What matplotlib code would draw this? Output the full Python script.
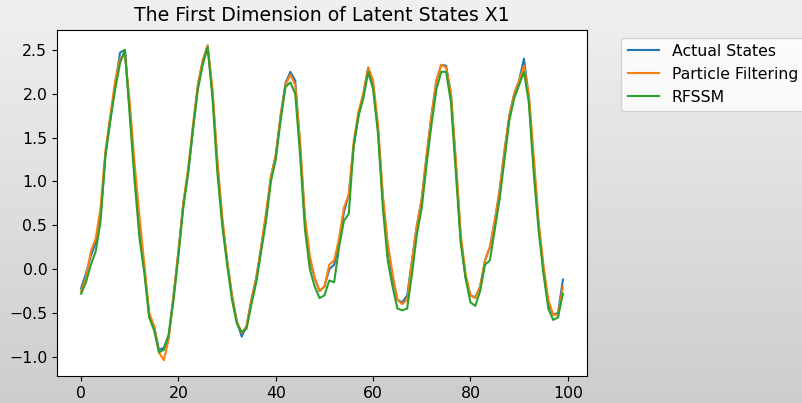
import numpy as np
import matplotlib
matplotlib.use('Agg')
import matplotlib.pyplot as plt

# latent state X1
actual_states = [
    -0.22, -0.05, 0.15, 0.30, 0.60, 1.30, 1.70, 2.10, 2.47, 2.50,
    1.80, 1.10, 0.50, 0.00, -0.55, -0.65, -0.92, -0.90, -0.75, -0.30,
    0.20, 0.75, 1.10, 1.60, 2.10, 2.38, 2.55, 2.00, 1.20, 0.55,
    0.10, -0.30, -0.60, -0.77, -0.65, -0.35, -0.10, 0.25, 0.60, 1.05,
    1.30, 1.75, 2.12, 2.25, 2.15, 1.40, 0.55, 0.10, -0.10, -0.25,
    -0.20, 0.00, 0.05, 0.30, 0.65, 0.85, 1.40, 1.75, 2.00, 2.30,
    2.10, 1.60, 0.80, 0.25, -0.10, -0.35, -0.38, -0.30, 0.10, 0.50,
    0.80, 1.30, 1.75, 2.15, 2.33, 2.32, 2.00, 1.20, 0.35, -0.10,
    -0.30, -0.32, -0.20, 0.10, 0.25, 0.55, 0.90, 1.35, 1.75, 2.00,
    2.15, 2.40, 1.95, 1.20, 0.50, 0.00, -0.40, -0.52, -0.50, -0.12,
]
particle_filtering = [
    -0.25, -0.10, 0.20, 0.35, 0.70, 1.35, 1.75, 2.15, 2.40, 2.45,
    1.90, 1.20, 0.60, 0.05, -0.50, -0.65, -0.95, -1.04, -0.80, -0.30,
    0.20, 0.75, 1.15, 1.65, 2.10, 2.38, 2.55, 2.05, 1.25, 0.60,
    0.10, -0.30, -0.60, -0.73, -0.65, -0.35, -0.10, 0.25, 0.65, 1.05,
    1.30, 1.75, 2.10, 2.22, 2.10, 1.45, 0.60, 0.15, -0.10, -0.25,
    -0.20, 0.05, 0.10, 0.35, 0.70, 0.85, 1.45, 1.80, 2.00, 2.30,
    2.15, 1.65, 0.85, 0.30, -0.05, -0.35, -0.40, -0.35, 0.10, 0.50,
    0.80, 1.30, 1.75, 2.15, 2.33, 2.30, 2.00, 1.25, 0.40, -0.05,
    -0.30, -0.33, -0.20, 0.10, 0.25, 0.55, 0.90, 1.35, 1.75, 2.00,
    2.15, 2.32, 2.00, 1.30, 0.55, 0.05, -0.35, -0.52, -0.52, -0.20,
]
rfssm = [
    -0.28, -0.15, 0.05, 0.20, 0.55, 1.30, 1.70, 2.05, 2.35, 2.50,
    1.75, 1.00, 0.35, -0.05, -0.55, -0.70, -0.95, -0.92, -0.75, -0.35,
    0.15, 0.70, 1.10, 1.60, 2.05, 2.33, 2.53, 1.95, 1.10, 0.50,
    0.05, -0.35, -0.62, -0.72, -0.68, -0.40, -0.15, 0.20, 0.55, 1.00,
    1.25, 1.70, 2.08, 2.13, 2.00, 1.30, 0.45, 0.00, -0.20, -0.33,
    -0.30, -0.13, -0.15, 0.25, 0.55, 0.63, 1.40, 1.75, 1.95, 2.25,
    2.05, 1.55, 0.70, 0.10, -0.20, -0.45, -0.47, -0.45, -0.05, 0.40,
    0.70, 1.20, 1.65, 2.05, 2.25, 2.25, 1.90, 1.10, 0.30, -0.10,
    -0.38, -0.42, -0.25, 0.05, 0.10, 0.45, 0.80, 1.25, 1.70, 1.95,
    2.10, 2.25, 1.90, 1.10, 0.45, -0.05, -0.45, -0.58, -0.55, -0.28,
]
steps = range(len(actual_states))

plt.rcParams['font.size'] = 11.3

fig = plt.figure(figsize=(8.03, 4.03), dpi=100)

# grey gradient behind everything, like the notebook screenshot
bg = fig.add_axes([0, 0, 1, 1], zorder=-1)
grad = np.linspace(0, 1, 256).reshape(-1, 1)
bg.imshow(grad, aspect='auto', cmap=plt.cm.colors.LinearSegmentedColormap.from_list(
    'bg', ['#f0f0f0', '#cdcdcd']), extent=[0, 1, 0, 1])
bg.axis('off')

ax = fig.add_axes([0.071, 0.067, 0.660, 0.859])
ax.plot(steps, actual_states, label='Actual States')
ax.plot(steps, particle_filtering, label='Particle Filtering')
ax.plot(steps, rfssm, label='RFSSM')
ax.set_title('The First Dimension of Latent States X1')
ax.legend(bbox_to_anchor=(1.05, 1), loc='upper left')

fig.savefig('out.png', dpi=100)
